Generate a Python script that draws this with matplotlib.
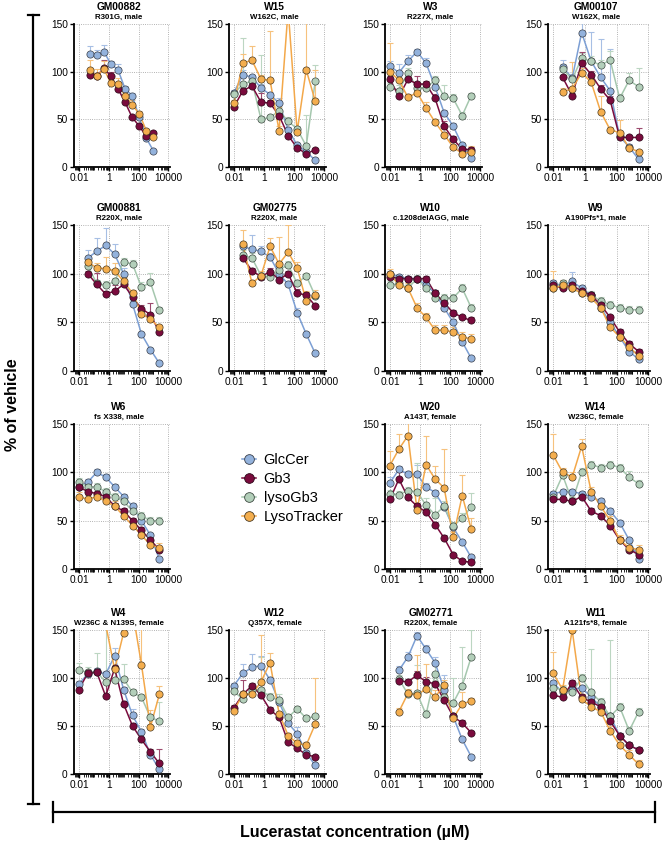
import numpy as np
import matplotlib
matplotlib.use('Agg')
import matplotlib.pyplot as plt
from matplotlib.lines import Line2D
from matplotlib.ticker import FixedLocator, NullFormatter, LogLocator

plt.rcParams['font.family'] = ['Liberation Sans', 'DejaVu Sans']

# ---------------- data ----------------
conc4 = [0.0095, 0.038, 0.153, 0.61, 2.44, 9.77, 39.1, 156, 625, 2500]
conc4b = [0.038, 0.153, 0.61, 2.44, 9.77, 39.1, 156, 625, 2500]
conc3 = [0.0508, 0.152, 0.457, 1.37, 4.12, 12.3, 37.0, 111, 333, 1000]

series_names = ['GlcCer', 'Gb3', 'lysoGb3', 'LysoTracker']

# GM00882
GM00882_glc = [119, 118, 121, 108, 102, 82, 75, 52, 30, 17]
GM00882_gb3 = [96, 95, 104, 95, 82, 68, 52, 43, 32, 36]
GM00882_lt = [102, 95, 103, 88, 87, 75, 65, 56, 38, 31]
GM00882_glc_err = [8, 5, 7, 3, 6, 3, 3, 3, 2, 2]
GM00882_gb3_err = [3, 4, 8, 5, 2, 2, 2, 2, 2, 2]
GM00882_lt_err = [10, 8, 8, 3, 6, 9, 5, 3, 2, 2]

# W15
W15_glc = [78, 97, 94, 83, 76, 67, 39, 23, 16, 7]
W15_lyso = [77, 87, 90, 50, 52, 59, 48, 40, 22, 90]
W15_gb3 = [63, 80, 85, 68, 67, 54, 33, 20, 14, 18]
W15_lt = [67, 109, 112, 92, 91, 38, 165, 37, 102, 69]
W15_glc_err = [3, 5, 3, 4, 3, 5, 3, 2, 2, 2]
W15_lyso_err = [3, 48, 5, 68, 3, 4, 4, 3, 33, 17]
W15_gb3_err = [2, 3, 3, 10, 3, 3, 2, 2, 2, 2]
W15_lt_err = [3, 10, 15, 5, 52, 5, 40, 3, 60, 33]

# W3
W3_glc = [106, 99, 111, 121, 109, 84, 57, 43, 23, 9]
W3_lyso = [84, 80, 99, 83, 83, 91, 74, 72, 54, 75]
W3_gb3 = [92, 74, 92, 87, 87, 72, 43, 29, 19, 18]
W3_lt = [100, 91, 73, 78, 62, 47, 34, 21, 14, 16]
W3_glc_err = [5, 9, 6, 3, 5, 3, 3, 3, 2, 2]
W3_lyso_err = [4, 6, 5, 4, 4, 4, 12, 5, 4, 3]
W3_gb3_err = [3, 3, 3, 8, 3, 5, 5, 3, 2, 3]
W3_lt_err = [30, 5, 4, 3, 6, 3, 3, 2, 2, 6]

# GM00107
GM00107_glc = [105, 93, 141, 111, 94, 80, 32, 21, 8]
GM00107_lyso = [103, 92, 114, 111, 107, 112, 72, 91, 84]
GM00107_gb3 = [94, 75, 109, 97, 82, 70, 31, 31, 31]
GM00107_lt = [79, 82, 99, 89, 58, 39, 36, 20, 16]
GM00107_glc_err = [7, 5, 10, 31, 40, 44, 5, 3, 2]
GM00107_lyso_err = [5, 4, 6, 5, 5, 10, 5, 8, 20]
GM00107_gb3_err = [3, 3, 12, 4, 4, 4, 3, 3, 10]
GM00107_lt_err = [4, 28, 5, 5, 17, 3, 13, 3, 2]

# GM00881
GM00881_glc = [116, 123, 129, 120, 100, 69, 38, 22, 8]
GM00881_lyso = [108, 90, 88, 92, 112, 110, 86, 91, 63]
GM00881_gb3 = [100, 89, 79, 82, 89, 76, 64, 58, 40]
GM00881_lt = [112, 106, 105, 103, 92, 80, 59, 53, 45]
GM00881_glc_err = [8, 14, 18, 10, 6, 3, 2, 2, 2]
GM00881_lyso_err = [5, 4, 4, 4, 4, 4, 5, 10, 3]
GM00881_gb3_err = [3, 12, 3, 6, 3, 3, 4, 12, 3]
GM00881_lt_err = [6, 5, 12, 8, 5, 3, 3, 3, 2]

# GM02775
GM02775_glc = [128, 125, 123, 117, 100, 89, 60, 38, 18]
GM02775_lyso = [119, 116, 98, 97, 104, 109, 90, 98, 77]
GM02775_gb3 = [116, 103, 97, 102, 94, 100, 80, 78, 67]
GM02775_lt = [130, 90, 98, 128, 110, 122, 106, 72, 78]
GM02775_glc_err = [5, 15, 5, 4, 3, 3, 5, 2, 2]
GM02775_lyso_err = [5, 5, 4, 4, 4, 4, 4, 3, 3]
GM02775_gb3_err = [3, 3, 3, 4, 3, 3, 4, 3, 2]
GM02775_lt_err = [15, 3, 5, 9, 28, 28, 6, 10, 5]

# W10
W10_glc = [100, 97, 95, 95, 88, 80, 65, 50, 30, 13]
W10_lyso = [88, 90, 85, 95, 85, 75, 75, 75, 85, 65]
W10_gb3 = [97, 95, 95, 95, 95, 80, 70, 60, 55, 52]
W10_lt = [100, 88, 85, 65, 55, 42, 42, 40, 35, 33]
W10_glc_err = [3, 3, 3, 3, 3, 3, 3, 3, 2, 2]
W10_lyso_err = [4, 4, 4, 4, 4, 4, 4, 4, 4, 4]
W10_gb3_err = [3, 3, 3, 3, 3, 3, 3, 3, 3, 3]
W10_lt_err = [5, 5, 5, 5, 5, 5, 5, 5, 5, 5]

# W9
W9_glc = [90, 88, 92, 85, 78, 65, 50, 35, 20, 12]
W9_lyso = [85, 90, 85, 80, 78, 72, 68, 65, 63, 63]
W9_gb3 = [88, 85, 88, 82, 78, 68, 55, 40, 28, 20]
W9_lt = [85, 88, 85, 80, 75, 65, 45, 35, 25, 15]
W9_glc_err = [3, 3, 10, 3, 3, 3, 3, 3, 2, 2]
W9_lyso_err = [4, 4, 4, 4, 4, 4, 4, 4, 4, 4]
W9_gb3_err = [3, 3, 3, 3, 3, 3, 3, 3, 3, 3]
W9_lt_err = [18, 5, 5, 5, 5, 5, 5, 5, 5, 5]

# W6
W6_glc = [85, 90, 100, 95, 85, 75, 65, 50, 35, 10]
W6_lyso = [90, 85, 85, 80, 75, 70, 60, 55, 50, 50]
W6_gb3 = [85, 80, 78, 75, 65, 60, 50, 40, 30, 20]
W6_lt = [75, 72, 75, 70, 65, 55, 45, 35, 25, 22]
W6_glc_err = [3, 3, 3, 3, 3, 3, 3, 3, 2, 2]
W6_lyso_err = [4, 4, 4, 4, 4, 4, 4, 4, 4, 4]
W6_gb3_err = [3, 3, 3, 3, 3, 3, 3, 3, 3, 3]
W6_lt_err = [5, 5, 5, 5, 5, 5, 5, 5, 5, 5]

# W20
W20_glc = [89, 103, 98, 98, 85, 79, 64, 43, 28, 12]
W20_lyso = [78, 77, 81, 80, 66, 56, 65, 44, 53, 64]
W20_gb3 = [72, 93, 74, 65, 59, 46, 32, 15, 8, 7]
W20_lt = [107, 124, 138, 61, 108, 93, 84, 33, 76, 41]
W20_glc_err = [6, 4, 3, 10, 4, 3, 3, 3, 2, 2]
W20_lyso_err = [4, 4, 4, 30, 7, 17, 5, 5, 5, 15]
W20_gb3_err = [3, 7, 3, 3, 3, 3, 3, 2, 2, 2]
W20_lt_err = [15, 16, 14, 6, 30, 14, 40, 5, 21, 12]

# W14
W14_glc = [78, 80, 80, 78, 75, 70, 60, 48, 30, 10]
W14_lyso = [75, 97, 70, 100, 108, 105, 108, 105, 95, 88]
W14_gb3 = [72, 72, 70, 75, 60, 55, 45, 30, 20, 15]
W14_lt = [118, 100, 95, 127, 80, 65, 50, 30, 22, 20]
W14_glc_err = [3, 3, 3, 3, 3, 3, 3, 3, 2, 2]
W14_lyso_err = [4, 4, 4, 4, 4, 4, 4, 4, 6, 4]
W14_gb3_err = [3, 3, 3, 3, 3, 3, 3, 3, 3, 3]
W14_lt_err = [22, 5, 5, 8, 5, 5, 5, 5, 5, 5]

# W4
W4_glc = [94, 104, 107, 104, 123, 88, 61, 44, 20, 5]
W4_lyso = [108, 106, 106, 96, 98, 99, 85, 80, 59, 55]
W4_gb3 = [88, 105, 106, 81, 110, 73, 50, 36, 23, 11]
W4_lt = [200, 190, 180, 156, 109, 147, 170, 114, 49, 83]
W4_glc_err = [3, 3, 3, 3, 8, 3, 7, 3, 2, 2]
W4_lyso_err = [8, 5, 20, 60, 12, 16, 4, 3, 3, 20]
W4_gb3_err = [3, 3, 3, 25, 3, 3, 3, 3, 3, 15]
W4_lt_err = [0, 0, 0, 0, 5, 5, 0, 40, 18, 9]

# W12
W12_glc = [92, 105, 111, 113, 98, 75, 53, 42, 22, 9]
W12_lyso = [86, 78, 88, 88, 80, 77, 59, 68, 58, 60]
W12_gb3 = [69, 83, 92, 82, 67, 59, 33, 27, 20, 18]
W12_lt = [66, 83, 83, 96, 116, 63, 40, 32, 30, 52]
W12_glc_err = [3, 10, 14, 10, 3, 4, 3, 7, 3, 2]
W12_lyso_err = [3, 3, 4, 34, 4, 6, 3, 3, 3, 3]
W12_gb3_err = [3, 15, 3, 3, 3, 3, 3, 3, 2, 2]
W12_lt_err = [5, 3, 3, 49, 10, 3, 3, 3, 3, 48]

# GM02771
GM02771_glc = [108, 122, 144, 130, 116, 88, 60, 36, 18]
GM02771_lyso = [99, 83, 84, 62, 104, 80, 74, 92, 122]
GM02771_gb3 = [97, 96, 103, 96, 94, 77, 60, 53, 43]
GM02771_lt = [65, 84, 82, 89, 80, 93, 58, 73, 76]
GM02771_glc_err = [4, 5, 4, 4, 6, 15, 4, 3, 2]
GM02771_lyso_err = [4, 5, 30, 5, 10, 10, 26, 40, 28]
GM02771_gb3_err = [3, 3, 4, 5, 3, 3, 3, 3, 2]
GM02771_lt_err = [4, 5, 42, 26, 8, 5, 4, 12, 3]

# W11
W11_glc = [95, 85, 88, 90, 80, 70, 60, 40, 30, 25]
W11_lyso = [90, 88, 85, 100, 85, 75, 60, 70, 45, 65]
W11_gb3 = [82, 80, 95, 80, 75, 70, 55, 40, 30, 25]
W11_lt = [105, 88, 150, 78, 70, 65, 45, 30, 20, 10]
W11_glc_err = [3, 3, 3, 3, 3, 3, 3, 3, 2, 2]
W11_lyso_err = [4, 4, 4, 4, 45, 4, 80, 4, 4, 4]
W11_gb3_err = [3, 3, 3, 3, 3, 3, 3, 3, 3, 3]
W11_lt_err = [22, 5, 5, 5, 5, 5, 5, 5, 5, 5]

# ---------------- layout ----------------
W, H = 666, 844
fig = plt.figure(figsize=(W / 100, H / 100), dpi=100)

row_px = [(24, 167), (225, 371), (424, 569), (630, 774)]
col_px = [(74, 170), (229, 326), (385, 482), (548, 650)]

colors = {
    'GlcCer': dict(face='#93B2DC', line='#7C9FD4', err='#A7BFE4', edge='#3A3F4A'),
    'Gb3': dict(face='#7A0B3D', line='#7A0B3D', err='#9C4A6E', edge='#2B0818'),
    'lysoGb3': dict(face='#B3CFBA', line='#A5C7AE', err='#BCD6C2', edge='#3E4A42'),
    'LysoTracker': dict(face='#F4AE4E', line='#F3A84A', err='#F6C27E', edge='#4A3A22'),
}

panels = [
    (0, 0, 'GM00882', 'R301G, male', conc3, GM00882_glc, GM00882_gb3, None, GM00882_lt,
     GM00882_glc_err, GM00882_gb3_err, None, GM00882_lt_err),
    (0, 1, 'W15', 'W162C, male', conc4, W15_glc, W15_gb3, W15_lyso, W15_lt,
     W15_glc_err, W15_gb3_err, W15_lyso_err, W15_lt_err),
    (0, 2, 'W3', 'R227X, male', conc4, W3_glc, W3_gb3, W3_lyso, W3_lt,
     W3_glc_err, W3_gb3_err, W3_lyso_err, W3_lt_err),
    (0, 3, 'GM00107', 'W162X, male', conc4b, GM00107_glc, GM00107_gb3, GM00107_lyso, GM00107_lt,
     GM00107_glc_err, GM00107_gb3_err, GM00107_lyso_err, GM00107_lt_err),
    (1, 0, 'GM00881', 'R220X, male', conc4b, GM00881_glc, GM00881_gb3, GM00881_lyso, GM00881_lt,
     GM00881_glc_err, GM00881_gb3_err, GM00881_lyso_err, GM00881_lt_err),
    (1, 1, 'GM02775', 'R220X, male', conc4b, GM02775_glc, GM02775_gb3, GM02775_lyso, GM02775_lt,
     GM02775_glc_err, GM02775_gb3_err, GM02775_lyso_err, GM02775_lt_err),
    (1, 2, 'W10', 'c.1208delAGG, male', conc4, W10_glc, W10_gb3, W10_lyso, W10_lt,
     W10_glc_err, W10_gb3_err, W10_lyso_err, W10_lt_err),
    (1, 3, 'W9', 'A190Pfs*1, male', conc4, W9_glc, W9_gb3, W9_lyso, W9_lt,
     W9_glc_err, W9_gb3_err, W9_lyso_err, W9_lt_err),
    (2, 0, 'W6', 'fs X338, male', conc4, W6_glc, W6_gb3, W6_lyso, W6_lt,
     W6_glc_err, W6_gb3_err, W6_lyso_err, W6_lt_err),
    (2, 2, 'W20', 'A143T, female', conc4, W20_glc, W20_gb3, W20_lyso, W20_lt,
     W20_glc_err, W20_gb3_err, W20_lyso_err, W20_lt_err),
    (2, 3, 'W14', 'W236C, female', conc4, W14_glc, W14_gb3, W14_lyso, W14_lt,
     W14_glc_err, W14_gb3_err, W14_lyso_err, W14_lt_err),
    (3, 0, 'W4', 'W236C & N139S, female', conc4, W4_glc, W4_gb3, W4_lyso, W4_lt,
     W4_glc_err, W4_gb3_err, W4_lyso_err, W4_lt_err),
    (3, 1, 'W12', 'Q357X, female', conc4, W12_glc, W12_gb3, W12_lyso, W12_lt,
     W12_glc_err, W12_gb3_err, W12_lyso_err, W12_lt_err),
    (3, 2, 'GM02771', 'R220X, female', conc4b, GM02771_glc, GM02771_gb3, GM02771_lyso, GM02771_lt,
     GM02771_glc_err, GM02771_gb3_err, GM02771_lyso_err, GM02771_lt_err),
    (3, 3, 'W11', 'A121fs*8, female', conc4, W11_glc, W11_gb3, W11_lyso, W11_lt,
     W11_glc_err, W11_gb3_err, W11_lyso_err, W11_lt_err),
]

draw_order = ['GlcCer', 'lysoGb3', 'Gb3', 'LysoTracker']

for (r, c, name, sub, x, glc, gb3, lyso, lt, glc_e, gb3_e, lyso_e, lt_e) in panels:
    x0, x1 = col_px[c]
    yt, yb = row_px[r]
    ax = fig.add_axes([x0 / W, 1 - yb / H, (x1 - x0) / W, (yb - yt) / H])
    ax.set_xscale('log')
    ax.set_xlim(0.0045, 13000)
    ax.set_ylim(0, 150)
    data = {'GlcCer': (glc, glc_e), 'Gb3': (gb3, gb3_e), 'lysoGb3': (lyso, lyso_e),
            'LysoTracker': (lt, lt_e)}
    for s in draw_order:
        vals, errs = data[s]
        if vals is None:
            continue
        col = colors[s]
        xv = np.array(x, dtype=float)
        yv = np.array(vals, dtype=float)
        ev = np.array(errs, dtype=float)
        ax.errorbar(xv, yv, yerr=[np.zeros_like(ev), ev], fmt='none', ecolor=col['err'],
                    elinewidth=0.8, capsize=2.2, capthick=0.8, zorder=2)
        ax.plot(xv, yv, '-', color=col['line'], lw=1.1, zorder=3)
        ax.plot(xv, yv, 'o', ms=5.2, mfc=col['face'], mec=col['edge'], mew=0.5, zorder=4,
                clip_on=True)
    for sp in ['top', 'right']:
        ax.spines[sp].set_visible(False)
    for sp in ['left', 'bottom']:
        ax.spines[sp].set_linewidth(1.3)
    ax.xaxis.set_major_locator(FixedLocator([0.01, 1, 100, 10000]))
    ax.xaxis.set_minor_locator(LogLocator(base=10, subs=np.arange(1, 10), numticks=50))
    ax.xaxis.set_minor_formatter(NullFormatter())
    ax.set_xticklabels(['0.01', '1', '100', '10000'])
    ax.set_yticks([0, 50, 100, 150])
    ax.tick_params(axis='both', which='major', labelsize=7.3, length=3, width=1, pad=1.5)
    ax.tick_params(axis='x', which='minor', length=1.8, width=0.6)
    ax.grid(True, which='major', linestyle=':', color='#9A9A9A', linewidth=0.6)
    ax.set_axisbelow(True)
    ax.annotate(name, xy=(0.47, 1.0), xycoords='axes fraction', xytext=(0, 12),
                textcoords='offset pixels', ha='center', va='bottom', fontsize=7.4,
                fontweight='bold')
    ax.annotate(sub, xy=(0.47, 1.0), xycoords='axes fraction', xytext=(0, 3),
                textcoords='offset pixels', ha='center', va='bottom', fontsize=5.7,
                fontweight='bold')

# legend
handles = []
for s in series_names:
    col = colors[s]
    handles.append(Line2D([], [], color=col['line'], lw=1.1, marker='o', ms=7,
                          mfc=col['face'], mec=col['edge'], mew=0.6))
fig.legend(handles, series_names, loc='upper left', bbox_to_anchor=(236 / W, 1 - 447 / H),
           frameon=False, fontsize=10.5, handlelength=1.0, handletextpad=0.5,
           labelspacing=0.35, borderaxespad=0)

def fline(xs, ys, lw=1.6):
    fig.add_artist(Line2D([v / W for v in xs], [1 - v / H for v in ys], color='black',
                          lw=lw, transform=fig.transFigure))

fline([33, 33], [15, 804])
fline([28, 39], [15, 15])
fline([28, 39], [804, 804])
fline([53, 655], [812, 812])
fline([53, 53], [802, 822])
fline([655, 655], [802, 822])

fig.text(13 / W, 1 - 405 / H, '% of vehicle', rotation=90, ha='center', va='center',
         fontsize=11.5, fontweight='bold')
fig.text(355 / W, 1 - 832 / H, 'Lucerastat concentration (\u00b5M)', ha='center',
         va='center', fontsize=11.5, fontweight='bold')

fig.savefig('out.png', dpi=100)
